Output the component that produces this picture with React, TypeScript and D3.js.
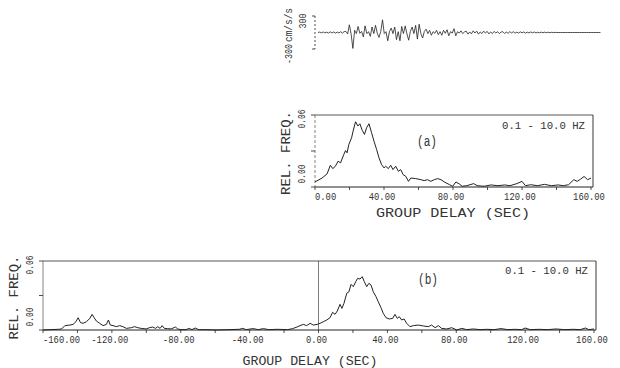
import { useRef, useEffect } from 'react';
import * as d3 from 'd3';

// accelerogram, one value every 0.5 s (cm/s/s)
const accelStep = 0.5;
const accelValues = [
  0, 8, -6, 10, -8, 6, -10, 12, -8, 10, -12, 8, -10, 14, -12, 16,
  20, -25, 140, -30, -290, 40, -20, 110, -15, 20, -80, 120, -20, 15,
  -70, 100, -20, 130, -15, -90, 20, 230, -20, 15, -150, 20, 80, -20,
  100, -130, 15, -150, 110, -20, 120, -25, -140, 20, 100, -20, 130, -120,
  150, -20, -100, 20, 60, -20, 40, -50, 15, -15, 40, -40, 15, -50, 40, -15,
  50, -60, 15, -10, 70, -60, 15, -10, 30, -20, 10, 25, -30, 10, -25, 30,
  -10, 25, -30, 10, -20, 25, -10, 20, -25, 10, -20, 20, -10, 15, -20, 8,
  15, -18, 8, -14, 15, -8, 14, -12, 6, -10, 12, -6, 10, -12, 6, -8,
  10, -6, 9, -8, 5, -6, 7, -5, 6, -4, 5, -3, 4, -2, 2, 0,
  0, 0, 0, 0, 0, 0, 0, 0, 0, 0, 0, 0, 0, 0, 0, 0, 0, 0, 0, 0, 0, 0, 0, 0, 0
];

// (a) group delay histogram, 0..160 s
const delayA = [
  0, 4.1, 7, 8.9, 10.3, 11.8, 13.4, 14.8, 16.7, 17.7, 18.6, 19.6, 21.2, 22.1,
  23.5, 24.9, 26, 27.4, 28.7, 29.9, 31.3, 32.8, 34.2, 35.7, 37.1, 38.6, 40,
  41, 42.5, 43.9, 45.2, 46.8, 48.3, 49.7, 51.1, 52.6, 54.2, 55.5, 58.4, 61.4,
  63.3, 65.2, 67.2, 69.1, 71.1, 73, 75, 77.9, 79.8, 81.7, 83.7, 85.3, 88, 92,
  94, 98, 102, 106, 110, 113, 117, 120, 122, 125, 129, 133, 137, 141, 144,
  147, 150, 152, 154, 156, 158, 160
];
const freqA = [
  0.0042, 0.0075, 0.0109, 0.0181, 0.0153, 0.0173, 0.0215, 0.0201, 0.0271,
  0.0304, 0.0285, 0.0354, 0.041, 0.0466, 0.0544, 0.0508, 0.0527, 0.0472,
  0.0438, 0.0494, 0.0527, 0.0452, 0.0382, 0.0313, 0.0243, 0.0187, 0.0159,
  0.0173, 0.0153, 0.0181, 0.0145, 0.0173, 0.0131, 0.0145, 0.0103, 0.0089,
  0.0047, 0.0075, 0.007, 0.0061, 0.0053, 0.0061, 0.0047, 0.0061, 0.007,
  0.0061, 0.0042, 0.002, 0.0006, 0.0042, 0.0025, 0.0006, 0.0011, 0.0028,
  0.0011, 0.0006, 0.0017, 0.0011, 0.0017, 0.0011, 0.0028, 0.0047, 0.0011,
  0.0019, 0.0011, 0.0022, 0.0011, 0.0017, 0.0011, 0.0019, 0.0061, 0.0047,
  0.0066, 0.0088, 0.0061, 0.0075
];

// (b) group delay histogram, -160..160 s
const delayB = [
  -160, -156, -151, -149.2, -147.3, -144.4, -142.5, -140.9, -139.6, -138.2,
  -136.7, -134.8, -132.8, -131.5, -130.3, -129, -127.1, -125.1, -123.2, -122,
  -120.9, -119.3, -117.4, -115.5, -113.6, -111.6, -108.7, -106.8, -104.9, -103,
  -100.1, -98.2, -96.2, -94.7, -93.3, -92, -90.8, -89.5, -87.6, -85.6, -83.1,
  -81.8, -79.8, -77, -75, -73.5, -71.6, -69.6, -66.4, -59.6, -52, -46, -44,
  -42, -38, -35, -32, -29, -24, -18, -15, -12.5, -10.7, -8.8, -6.9, -4.9, -3,
  -0.7, 0.9, 2.8, 4.8, 6.7, 8.2, 9.6, 10.9, 12.5, 13.6, 14.8, 16.4, 17.7, 18.9,
  20.2, 21.6, 22.7, 24.1, 25.4, 26.6, 28, 29.3, 30.5, 31.8, 33.4, 34.7, 36.3,
  37.6, 39.2, 41.1, 43.1, 44.4, 45.8, 46.9, 48.3, 49.7, 51.2, 53.1, 55.1, 58,
  60.9, 63.8, 65.7, 67.7, 69.6, 71.5, 74.4, 77.4, 80.3, 83.2, 86.1, 89.9, 93.8,
  98, 102, 106, 110, 114, 118, 120, 123, 128, 133, 138, 143, 148, 152, 155,
  157, 160
];
const freqB = [
  0, 0.0003, 0.0006, 0.0009, 0.0038, 0.0043, 0.0049, 0.0072, 0.0107, 0.0064,
  0.0058, 0.0072, 0.0101, 0.0136, 0.0107, 0.0078, 0.0058, 0.0038, 0.0049,
  0.0087, 0.0043, 0.0038, 0.0029, 0.0038, 0.0029, 0.0014, 0.002, 0.0029,
  0.002, 0.0014, 0.0009, 0.002, 0.0026, 0.0014, 0.0029, 0.0014, 0.0038,
  0.0014, 0.0012, 0.0009, 0.0026, 0.0009, 0.0003, 0.0003, 0.0014, 0.0003,
  0.0017, 0.0003, 0.0003, 0, 0.0003, 0.0006, 0.0014, 0.0003, 0.0012, 0.0003,
  0.0012, 0.0003, 0.0006, 0.0003, 0.0012, 0.0026, 0.0038, 0.0049, 0.0038,
  0.0058, 0.0043, 0.0049, 0.0058, 0.0072, 0.0087, 0.0107, 0.0154, 0.0136,
  0.0165, 0.0223, 0.0188, 0.0232, 0.0319, 0.0333, 0.0397, 0.0377, 0.042,
  0.0449, 0.0443, 0.0464, 0.042, 0.0377, 0.0406, 0.0391, 0.0333, 0.029,
  0.0246, 0.0194, 0.0145, 0.0107, 0.0096, 0.0101, 0.0136, 0.0101, 0.0116,
  0.0087, 0.0096, 0.0058, 0.0029, 0.0038, 0.0043, 0.0035, 0.0029, 0.0043,
  0.002, 0.0038, 0.0014, 0.0009, 0.002, 0, 0.0014, 0.0003, 0.0009, 0.0003,
  0.0006, 0.0003, 0.0012, 0.0003, 0.0006, 0.0003, 0.0017, 0.0003, 0.0006,
  0.0003, 0.0009, 0.0003, 0.0006, 0.0003, 0.0017, 0.0003, 0.0009
];

const ticksA = [0, 40, 80, 120, 160];
const ticksB = [-160, -120, -80, -40, 0, 40, 80, 120, 160];
const freqTicks = [0, 0.03, 0.06];
const accelTicks = [-300, 300];

const FONT = '"Liberation Mono", monospace';
const INK = '#222';

export default function App() {
  const svgRef = useRef<SVGSVGElement>(null);

  useEffect(() => {
    const svg = d3.select(svgRef.current);
    svg.selectAll('*').remove();
    svg.style('font-family', FONT);

    const label = (x: number, y: number, s: string, size: number, opts: any = {}) => {
      const t = svg.append('text')
        .attr('x', x).attr('y', y)
        .attr('font-size', size)
        .attr('fill', '#333')
        .attr('text-anchor', opts.anchor || 'middle')
        .text(s);
      if (opts.len) t.attr('textLength', opts.len).attr('lengthAdjust', 'spacingAndGlyphs');
      if (opts.rot) t.attr('transform', `rotate(-90,${x},${y})`);
      return t;
    };

    // 1. accelerogram
    const xAcc = d3.scaleLinear().domain([0, 80]).range([318, 597]);
    const yAcc = d3.scaleLinear().domain([-300, 300]).range([49, 16]);
    svg.append('line')
      .attr('x1', 315).attr('x2', 315)
      .attr('y1', yAcc(300)).attr('y2', yAcc(-300))
      .attr('stroke', INK).attr('stroke-width', 0.8).attr('stroke-dasharray', '2,2');
    svg.append('g').selectAll('line').data(accelTicks).join('line')
      .attr('x1', 312).attr('x2', 315)
      .attr('y1', d => yAcc(d)).attr('y2', d => yAcc(d))
      .attr('stroke', INK).attr('stroke-width', 0.8);
    svg.append('path')
      .datum(accelValues)
      .attr('fill', 'none').attr('stroke', INK).attr('stroke-width', 0.8)
      .attr('d', d3.line<number>().x((_, i) => xAcc(i * accelStep)).y(d => yAcc(d)));
    label(306, yAcc(300) + 5, '300', 10, { rot: true, len: 15 });
    label(292, 54, '-300', 10, { rot: true, len: 20 });
    label(292, 25, 'cm/s/s', 11, { rot: true, len: 34 });

    // 2. histograms
    const panel = (
      xs: d3.ScaleLinear<number, number>, ys: d3.ScaleLinear<number, number>,
      delays: number[], freqs: number[], ticks: number[], tickStep: number,
      tag: string, tagX: number, tagY: number, labelX: number, labelY: number,
      labelLen: number, bandX: number, bandY: number, zeroLine: boolean
    ) => {
      const [x0, x1] = xs.range();
      const [yb, yt] = ys.range();
      const g = svg.append('g');
      // frame
      g.append('line').attr('x1', x0).attr('x2', x1 + 2).attr('y1', yt).attr('y2', yt)
        .attr('stroke', '#444').attr('stroke-width', 0.9);
      g.append('line').attr('x1', x1 + 2).attr('x2', x1 + 2).attr('y1', yt).attr('y2', yb)
        .attr('stroke', INK).attr('stroke-width', 0.9);
      g.append('line').attr('x1', x0).attr('x2', x1 + 2).attr('y1', yb).attr('y2', yb)
        .attr('stroke', INK).attr('stroke-width', 1);
      g.append('line').attr('x1', x0).attr('x2', x0).attr('y1', yt).attr('y2', yb)
        .attr('stroke', '#666').attr('stroke-width', 0.8)
        .attr('stroke-dasharray', zeroLine ? null : '3,2');
      if (zeroLine) {
        g.append('line').attr('x1', xs(0)).attr('x2', xs(0)).attr('y1', yt).attr('y2', yb)
          .attr('stroke', '#444').attr('stroke-width', 0.7);
      }
      // y ticks
      g.append('g').selectAll('line').data(freqTicks).join('line')
        .attr('x1', x0 - 4).attr('x2', x0)
        .attr('y1', d => ys(d)).attr('y2', d => ys(d))
        .attr('stroke', INK).attr('stroke-width', 0.8);
      // x ticks
      const minor = d3.range(xs.domain()[0], xs.domain()[1] + 0.1, tickStep);
      g.append('g').selectAll('line').data(minor).join('line')
        .attr('x1', d => xs(d)).attr('x2', d => xs(d))
        .attr('y1', yb).attr('y2', yb + 3)
        .attr('stroke', INK).attr('stroke-width', 0.8);
      ticks.forEach((t, i) => {
        label(i === 0 ? xs(t) : xs(t) - 2, yb + 13, t.toFixed(2), 10,
          { anchor: i === 0 ? 'start' : 'middle', len: t.toFixed(2).length * 5.3 });
      });
      // curve
      g.append('path')
        .datum(delays.map((d, i) => [d, freqs[i]] as [number, number]))
        .attr('fill', 'none').attr('stroke', INK).attr('stroke-width', 1)
        .attr('stroke-linejoin', 'round')
        .attr('d', d3.line().x(d => xs(d[0])).y(d => ys(d[1])));
      // texts
      label(x0 - 10, yt + 4, '0.06', 10, { rot: true, len: 19 });
      label(x0 - 10, yb - 13, '0.00', 10, { rot: true, len: 19 });
      label(x0 - 25, (yt + yb) / 2 + 2, 'REL. FREQ.', 12, { rot: true, len: 84 });
      label(tagX, tagY, tag, 14, { len: 20 });
      label(bandX, bandY, '0.1 - 10.0 HZ', 10, { anchor: 'start', len: 83 });
      label(labelX, labelY, 'GROUP DELAY (SEC)', 12, { len: labelLen });
    };

    const xA = d3.scaleLinear().domain([0, 160]).range([315, 591]);
    const yA = d3.scaleLinear().domain([0, 0.06]).range([187, 115]);
    panel(xA, yA, delayA, freqA, ticksA, 20, '(a)', 427, 146, 453, 217, 154, 502, 129, false);

    const xB = d3.scaleLinear().domain([-160, 160]).range([43, 594]);
    const yB = d3.scaleLinear().domain([0, 0.06]).range([330, 261]);
    panel(xB, yB, delayB, freqB, ticksB, 20, '(b)', 428, 284, 310, 365, 135, 505, 274, true);
  }, []);

  return (
    <svg ref={svgRef} width={620} height={368}
      style={{ position: 'absolute', left: 0, top: 0, background: '#fff' }} />
  );
}
